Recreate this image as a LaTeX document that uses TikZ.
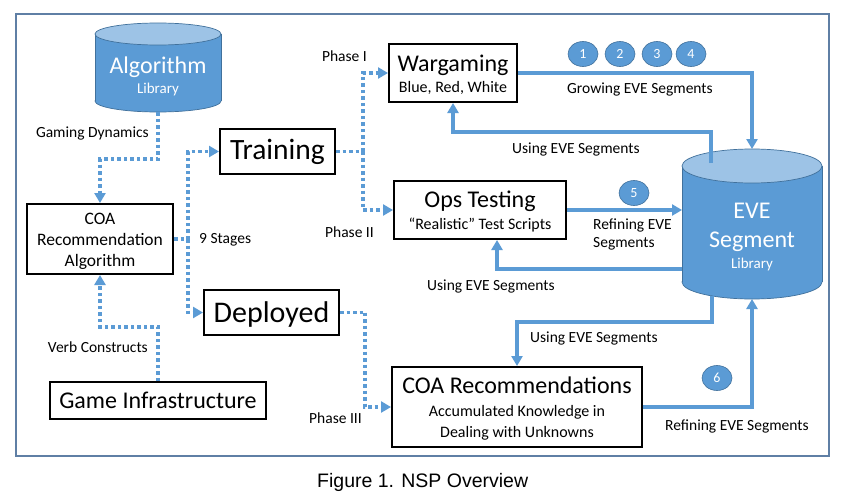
\documentclass[tikz,border=0pt]{standalone}
\usepackage{fontspec}
\setmainfont{Carlito}
\newfontfamily\capfont{Liberation Sans}
\usetikzlibrary{arrows.meta,shapes.geometric}
\definecolor{eblue}{HTML}{5B9BD5}
\definecolor{elight}{HTML}{9DC3E6}
\definecolor{edark}{HTML}{41719C}
\definecolor{framec}{HTML}{5F7FA5}
\newcommand{\fs}[1]{\fontsize{#1}{#1}\selectfont}
\begin{document}
\begin{tikzpicture}[x=1pt,y=-1pt,
  box/.style={draw=black, line width=2pt, inner sep=0pt},
  dotc/.style={draw=eblue, line width=3.6pt, dash pattern=on 3.5pt off 3pt},
  solidc/.style={draw=eblue, line width=3.6pt},
  tip/.style={-{Triangle[length=10pt,width=11pt]}},
  lbl/.style={font=\fs{15.5}, inner sep=0pt},
  txt/.style={inner sep=0pt, anchor=base},
  num/.style={ellipse, fill=eblue, draw=edark, line width=0.6pt, minimum width=30pt, minimum height=25pt, inner sep=0pt, text=white, font=\fs{14}},
  cylbody/.style={fill=eblue},
  cyltop/.style={fill=elight, draw=edark, line width=0.7pt},
]
\useasboundingbox (0,0) rectangle (853,495);
\fill[white] (0,0) rectangle (853,495);
\draw[framec, line width=1.1pt] (16,14) rectangle (829,456);

% Algorithm library cylinder
\node[inner sep=0pt, outer sep=0pt, minimum width=126pt, minimum height=89pt] (alg) at (158,67.5) {};
\filldraw[cylbody, draw=edark, line width=0.7pt] (158,101) ellipse [x radius=63, y radius=11];
\fill[eblue] (95,34) rectangle (221,101);
\draw[edark, line width=0.7pt] (95,34) -- (95,101) (221,34) -- (221,101);
\filldraw[cyltop] (158,34) ellipse [x radius=63, y radius=11];
\node[txt, text=white, font=\fs{24}] (algt1) at (158,73) {Algorithm};
\node[txt, text=white, font=\fs{15}] (algt2) at (158,93) {Library};

% EVE segment library cylinder
\node[inner sep=0pt, outer sep=0pt, minimum width=140pt, minimum height=150pt] (eve) at (752,224) {};
\filldraw[cylbody, draw=edark, line width=0.7pt] (752,282) ellipse [x radius=70, y radius=17];
\fill[eblue] (682,166) rectangle (822,282);
\draw[edark, line width=0.7pt] (682,166) -- (682,282) (822,166) -- (822,282);
\filldraw[cyltop] (752,166) ellipse [x radius=70, y radius=17];
\node[txt, text=white, font=\fs{24}] (evet1) at (752,218) {EVE};
\node[txt, text=white, font=\fs{24}] (evet2) at (752,247) {Segment};
\node[txt, text=white, font=\fs{15}] (evet3) at (752,268) {Library};

% Boxes
\node[box, minimum width=146pt, minimum height=70pt] (coa) at (100,239) {};
\node[txt, font=\fs{17.5}] (coat1) at (100,224) {COA};
\node[txt, font=\fs{17.5}] (coat2) at (100,245) {Recommendation};
\node[txt, font=\fs{17.5}] (coat3) at (100,266) {Algorithm};

\node[box, minimum width=115pt, minimum height=45pt] (train) at (277.5,151.5) {};
\node[txt, font=\fs{29.5}] (traint) at (277.5,159.5) {Training};

\node[box, minimum width=135pt, minimum height=45pt] (dep) at (271.5,312.5) {};
\node[txt, font=\fs{30}] (dept) at (271.5,322) {Deployed};

\node[box, minimum width=216pt, minimum height=37pt] (gi) at (158,400.5) {};
\node[txt, font=\fs{24}] (git) at (158,408.5) {Game Infrastructure};

\node[box, minimum width=128pt, minimum height=58pt] (war) at (453,73) {};
\node[txt, font=\fs{24}] (wart1) at (453,71) {Wargaming};
\node[txt, font=\fs{16}] (wart2) at (453,92) {Blue, Red, White};

\node[box, minimum width=172pt, minimum height=58pt] (ops) at (480,210) {};
\node[txt, font=\fs{24}] (opst1) at (480,207.5) {Ops Testing};
\node[txt, font=\fs{16}] (opst2) at (480,229) {“Realistic” Test Scripts};

\node[box, minimum width=250pt, minimum height=80pt] (cr) at (517,407) {};
\node[txt, font=\fs{24}] (crt1) at (517,393.5) {COA Recommendations};
\node[txt, font=\fs{16}] (crt2) at (517,416.5) {Accumulated Knowledge in};
\node[txt, font=\fs{16}] (crt3) at (517,437) {Dealing with Unknowns};

% Labels
\node[lbl, anchor=base east] (gd) at (149,137) {Gaming Dynamics};
\node[lbl, anchor=base east] (vc) at (148,352) {Verb Constructs};
\node[lbl, anchor=base west] (st) at (199,243) {9 Stages};
\node[lbl, anchor=base east] (p1) at (367,61) {Phase I};
\node[lbl, anchor=base east] (p2) at (374,237) {Phase II};
\node[lbl, anchor=base east] (p3) at (362,423) {Phase III};
\node[lbl, anchor=base west] (ge) at (567,93) {Growing EVE Segments};
\node[lbl, anchor=base west] (u1) at (512,153) {Using EVE Segments};
\node[lbl, anchor=base west] (r1a) at (593,229) {Refining EVE};
\node[lbl, anchor=base west] (r1b) at (593,247) {Segments};
\node[lbl, anchor=base west] (u2) at (427,290) {Using EVE Segments};
\node[lbl, anchor=base west] (u3) at (530,342) {Using EVE Segments};
\node[lbl, anchor=base west] (r2) at (665,430) {Refining EVE Segments};

% Number badges
\node[num] (n1) at (583,54) {1};
\node[num] (n2) at (620,54) {2};
\node[num] (n3) at (657,54) {3};
\node[num] (n4) at (691,54) {4};
\node[num] (n5) at (634,193) {5};
\node[num] (n6) at (717,378) {6};

% Dotted connectors
\draw[dotc, tip] (alg.south) -- ++(0,47) -| (coa.north);
\draw[dotc, tip] (gi.north) -- ++(0,-54) -| (coa.south);
\coordinate (s9) at (188,239);
\draw[dotc] (coa.east) -- (s9);
\draw[dotc, tip] (s9) |- (train.west);
\draw[dotc, tip] (s9) |- (dep.west);
\coordinate (ph) at (363,151.5);
\draw[dotc] (train.east) -- (ph);
\draw[dotc, tip] (ph) |- (war.west);
\draw[dotc, tip] (ph) |- (ops.west);
\coordinate (d3) at (365,312.5);
\draw[dotc] (dep.east) -- (d3);
\draw[dotc, tip] (d3) |- (cr.west);

% Solid connectors
\draw[solidc, tip] (war.east) -| (eve.north);
\coordinate (eu1) at (711,163);
\draw[solidc, tip] (eu1) -- (711,132) -| (war.south);
\draw[solidc, tip] (ops.east) -- (ops.east -| eve.west);
\coordinate (el) at (682,269);
\draw[solidc, tip] (el) -| ([xshift=17pt]ops.south);
\coordinate (eb) at (712,296);
\draw[solidc, tip] (eb) -- (712,322) -| (cr.north);
\draw[solidc, tip] (cr.east) -| (eve.south);

% Caption
\node[inner sep=0pt, anchor=base west, font=\capfont\fs{19.5}] (cap) at (317,487.5) {Figure 1. NSP Overview};
\end{tikzpicture}
\end{document}
